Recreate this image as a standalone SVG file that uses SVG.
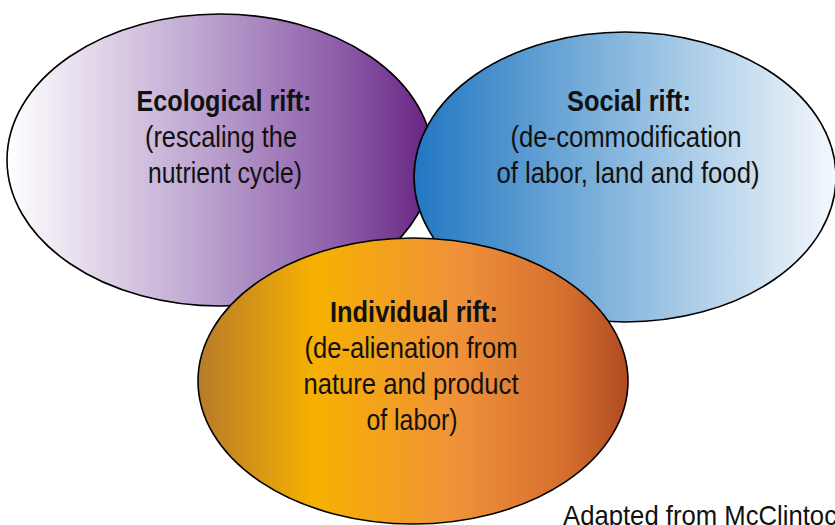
<svg xmlns="http://www.w3.org/2000/svg" width="835" height="525" viewBox="0 0 835 525">
  <defs>
    <linearGradient id="gPurple" x1="0" y1="0" x2="1" y2="0">
      <stop offset="0" stop-color="#ffffff"/>
      <stop offset="0.45" stop-color="#bea6d1"/>
      <stop offset="0.8" stop-color="#8a58a6"/>
      <stop offset="1" stop-color="#66227f"/>
    </linearGradient>
    <linearGradient id="gBlue" x1="0" y1="0" x2="1" y2="0">
      <stop offset="0" stop-color="#2277c2"/>
      <stop offset="0.45" stop-color="#7fb2db"/>
      <stop offset="1" stop-color="#f4f8fc"/>
    </linearGradient>
    <linearGradient id="gOrange" x1="0" y1="0" x2="1" y2="0">
      <stop offset="0" stop-color="#b77a2b"/>
      <stop offset="0.27" stop-color="#f6b100"/>
      <stop offset="0.6" stop-color="#f0923a"/>
      <stop offset="0.85" stop-color="#d66f2f"/>
      <stop offset="1" stop-color="#b04b22"/>
    </linearGradient>
    <style>
      .shape { stroke: #000; stroke-width: 1.6; }
      .t { font-family: "Liberation Sans", Arial, sans-serif; font-size: 30px; fill: #111; text-anchor: middle; }
      .b { font-weight: bold; }
      .note { font-family: "Liberation Sans", Arial, sans-serif; font-size: 28px; fill: #111; }
    </style>
  </defs>

  <rect width="835" height="525" fill="#ffffff"/>

  <g id="ecological">
    <ellipse class="shape" cx="220" cy="160" rx="213" ry="146" fill="url(#gPurple)"/>
    <text class="t b" x="224" y="111" textLength="175" lengthAdjust="spacingAndGlyphs">Ecological rift:</text>
    <text class="t" x="221" y="147" textLength="152" lengthAdjust="spacingAndGlyphs">(rescaling the</text>
    <text class="t" x="225" y="183" textLength="154" lengthAdjust="spacingAndGlyphs">nutrient cycle)</text>
  </g>

  <g id="social">
    <ellipse class="shape" cx="625" cy="177" rx="211" ry="145" fill="url(#gBlue)"/>
    <text class="t b" x="629" y="111" textLength="124" lengthAdjust="spacingAndGlyphs">Social rift:</text>
    <text class="t" x="626" y="147" textLength="231" lengthAdjust="spacingAndGlyphs">(de-commodification</text>
    <text class="t" x="628" y="183" textLength="263" lengthAdjust="spacingAndGlyphs">of labor, land and food)</text>
  </g>

  <g id="individual">
    <ellipse class="shape" cx="413" cy="381" rx="215" ry="143" fill="url(#gOrange)"/>
    <text class="t b" x="414" y="322" textLength="168" lengthAdjust="spacingAndGlyphs">Individual rift:</text>
    <text class="t" x="411" y="358" textLength="213" lengthAdjust="spacingAndGlyphs">(de-alienation from</text>
    <text class="t" x="411" y="394" textLength="215" lengthAdjust="spacingAndGlyphs">nature and product</text>
    <text class="t" x="412" y="430" textLength="91" lengthAdjust="spacingAndGlyphs">of labor)</text>
  </g>

  <g id="connectors"/>

  <g id="credit">
    <text class="note" x="563" y="525" textLength="274" lengthAdjust="spacingAndGlyphs">Adapted from McClintoc</text>
  </g>
</svg>
